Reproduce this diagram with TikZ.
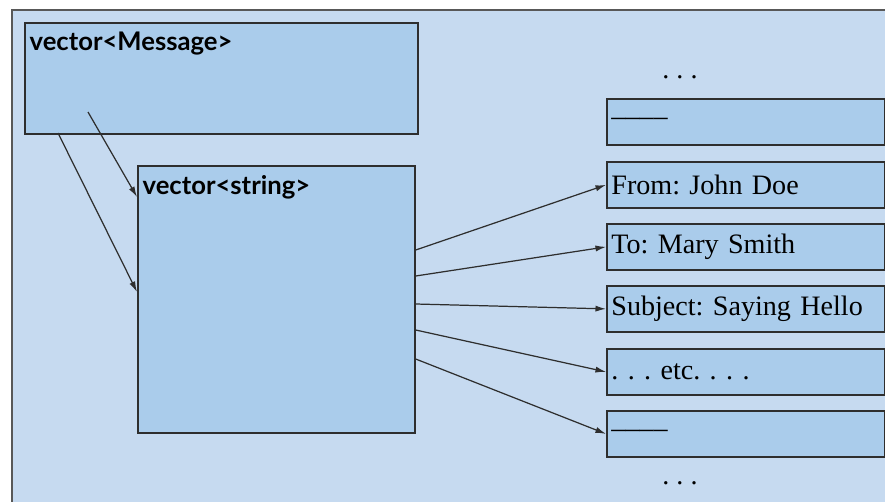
\documentclass[tikz,border=0pt]{standalone}
\usepackage{fontspec}
\setmainfont{Liberation Serif}
\newfontfamily\boxtitlefont{Lato}
\usetikzlibrary{arrows.meta,calc}
\frenchspacing

\definecolor{panelblue}{HTML}{C6DAF0}
\definecolor{boxblue}{HTML}{AACCEB}
\definecolor{edgegray}{HTML}{2E2E2E}

\tikzset{
  box/.style={draw=edgegray, line width=1pt, fill=boxblue, anchor=north west, inner sep=0pt},
  cell/.style={box, minimum width=5.56cm, minimum height=0.92cm, text width=5.38cm,
    inner xsep=2.5pt, align=left, font=\fontsize{16}{19}\selectfont},
  title/.style={anchor=north west, inner xsep=3pt, inner ysep=5.5pt,
    font=\boxtitlefont\bfseries\fontsize{14.6}{17}\selectfont},
  ptr/.style={-{Latex[length=6pt,width=3.5pt]}, line width=0.7pt, draw=edgegray}
}

\begin{document}
\begin{tikzpicture}[x=0.02cm, y=-0.02cm]
    % Fondo
    \clip (0,0) rectangle (885,501);
    \draw[draw=edgegray!80, line width=1.4pt, fill=panelblue] (12,10) rectangle (920,540);

    % Vectores
    \node[box, minimum width=7.86cm, minimum height=2.22cm] (msg) at (24,22) {};
    \node[title] (msgtitle) at (msg.north west) {vector<Message>};
    \node[box, minimum width=5.54cm, minimum height=5.34cm] (str) at (137,165) {};
    \node[title] (strtitle) at (str.north west) {vector<string>};

    % Celdas de la derecha
    \node[font=\fontsize{16}{19}\selectfont, anchor=base] (topdots) at (680,78) {. . .};
    \node[cell] (blank1) at (606,98) {\textendash\textendash\textendash\textendash};
    \node[cell] (from) at (606,161) {From: John Doe};
    \node[cell] (to) at (606,223) {To: Mary Smith};
    \node[cell] (subj) at (606,285) {Subject: Saying Hello};
    \node[cell] (etc) at (606,348) {. . . etc. . . .};
    \node[cell] (blank2) at (606,410) {\textendash\textendash\textendash\textendash};
    \node[font=\fontsize{16}{19}\selectfont, anchor=base] (botdots) at (680,484) {. . .};

    % Punteros
    \coordinate (m1) at ($(msg.north west)+(64,90)$);
    \coordinate (m2) at ($(msg.north west)+(34,111)$);
    \draw[ptr] (m1) -- ($(str.north west)+(0,32)$);
    \draw[ptr] (m2) -- ($(str.north west)+(0,127)$);

    \draw[ptr] ($(str.north east)+(0,85)$) -- (from.west);
    \draw[ptr] ($(str.north east)+(0,111)$) -- (to.west);
    \draw[ptr] ($(str.north east)+(0,139)$) -- (subj.west);
    \draw[ptr] ($(str.north east)+(0,165)$) -- (etc.west);
    \draw[ptr] ($(str.north east)+(0,194)$) -- (blank2.west);
\end{tikzpicture}
\end{document}
